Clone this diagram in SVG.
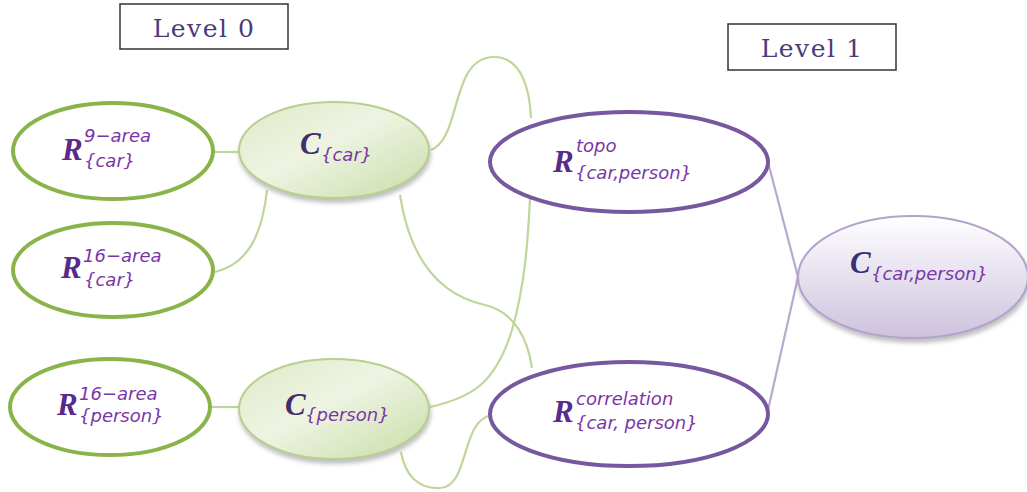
<svg xmlns="http://www.w3.org/2000/svg" width="1027" height="492" viewBox="0 0 1027 492">
<defs>
<linearGradient id="gg" x1="0" y1="0" x2="1" y2="1">
<stop offset="0" stop-color="#dfe9c8"/><stop offset="0.45" stop-color="#eef4e2"/><stop offset="1" stop-color="#c9dca8"/>
</linearGradient>
<linearGradient id="pg" x1="0" y1="0" x2="0" y2="1">
<stop offset="0" stop-color="#ffffff"/><stop offset="1" stop-color="#cdc2de"/>
</linearGradient>
<filter id="sh" x="-10%" y="-10%" width="125%" height="130%">
<feDropShadow dx="1" dy="4" stdDeviation="2" flood-color="#808080" flood-opacity="0.5"/>
</filter>
</defs>
<style>
.box{fill:#fff;stroke:#333;stroke-width:1.5}
.lvl{font-family:"DejaVu Serif",serif;font-size:25px;fill:#4b3b78;letter-spacing:1.5px}
.ro{fill:#fff;stroke:#8ab34a;stroke-width:4}
.cg{fill:url(#gg);stroke:#b7cf8f;stroke-width:2;filter:url(#sh)}
.rp{fill:#fff;stroke:#77589f;stroke-width:4}
.cp{fill:url(#pg);stroke:#b3a2cb;stroke-width:2;filter:url(#sh)}
.gl{fill:none;stroke:#bfd69a;stroke-width:2.2}
.pl{fill:none;stroke:#b9a9d2;stroke-width:2.2}
.big{font-family:"Liberation Serif",serif;font-style:italic;font-weight:bold;font-size:31px;fill:#5a2a8a}
.bc{font-family:"Liberation Serif",serif;font-style:italic;font-weight:bold;font-size:31px;fill:#3e2f6e}
.sm{font-family:"DejaVu Sans","Noto Sans",sans-serif;font-style:italic;font-size:18px;fill:#7a36a8}
</style>
<g id="level0"><rect class="box" x="120" y="4" width="168" height="45"/><text class="lvl" x="204" y="37" text-anchor="middle">Level 0</text></g>
<g id="level1"><rect class="box" x="728" y="24" width="168" height="46"/><text class="lvl" x="812" y="57" text-anchor="middle">Level 1</text></g>
<g id="connectors">
<path class="gl" d="M213,152 L240,152"/>
<path class="gl" d="M215,272 C248,264 262,235 267,190"/>
<path class="gl" d="M210,407 L240,407"/>
<path class="gl" d="M431,150 C462,138 450,57 494,57 C524,57 530,95 531,118"/>
<path class="gl" d="M400,195 C410,260 440,295 485,305 C515,312 528,340 532,368"/>
<path class="gl" d="M430,407 C470,398 495,385 512,330 C525,285 528,240 530,198"/>
<path class="gl" d="M401,452 C405,475 418,489 440,488 C470,487 460,420 492,415"/>
<path class="pl" d="M768,162 L798,277"/>
<path class="pl" d="M768,410 L798,277"/>
</g>
<g id="r9car"><ellipse class="ro" cx="113" cy="151" rx="100" ry="48"/>
<text class="big" x="62" y="160">R</text><text class="sm" x="84" y="142">9−area</text><text class="sm" x="84" y="167">{car}</text></g>
<g id="r16car"><ellipse class="ro" cx="113" cy="270" rx="100" ry="47"/>
<text class="big" x="61" y="278">R</text><text class="sm" x="83" y="262">16−area</text><text class="sm" x="84" y="286">{car}</text></g>
<g id="r16person"><ellipse class="ro" cx="110" cy="407" rx="100" ry="48"/>
<text class="big" x="57" y="415">R</text><text class="sm" x="79" y="400">16−area</text><text class="sm" x="79" y="422">{person}</text></g>
<g id="ccar"><ellipse class="cg" cx="334" cy="150" rx="95" ry="48"/>
<text class="bc" x="300" y="154">C</text><text class="sm" x="321" y="161">{car}</text></g>
<g id="cperson"><ellipse class="cg" cx="334" cy="409" rx="95" ry="50"/>
<text class="bc" x="285" y="415">C</text><text class="sm" x="305" y="421">{person}</text></g>
<g id="rtopo"><ellipse class="rp" cx="629" cy="162" rx="139" ry="50"/>
<text class="big" x="553" y="172">R</text><text class="sm" x="576" y="152">topo</text><text class="sm" x="575" y="179">{car,person}</text></g>
<g id="rcorr"><ellipse class="rp" cx="629" cy="414" rx="139" ry="52"/>
<text class="big" x="553" y="422">R</text><text class="sm" x="576" y="405">correlation</text><text class="sm" x="575" y="429">{car, person}</text></g>
<g id="ccarperson"><ellipse class="cp" cx="913" cy="277" rx="115" ry="61"/>
<text class="bc" x="850" y="273">C</text><text class="sm" x="871" y="280">{car,person}</text></g>
</svg>
